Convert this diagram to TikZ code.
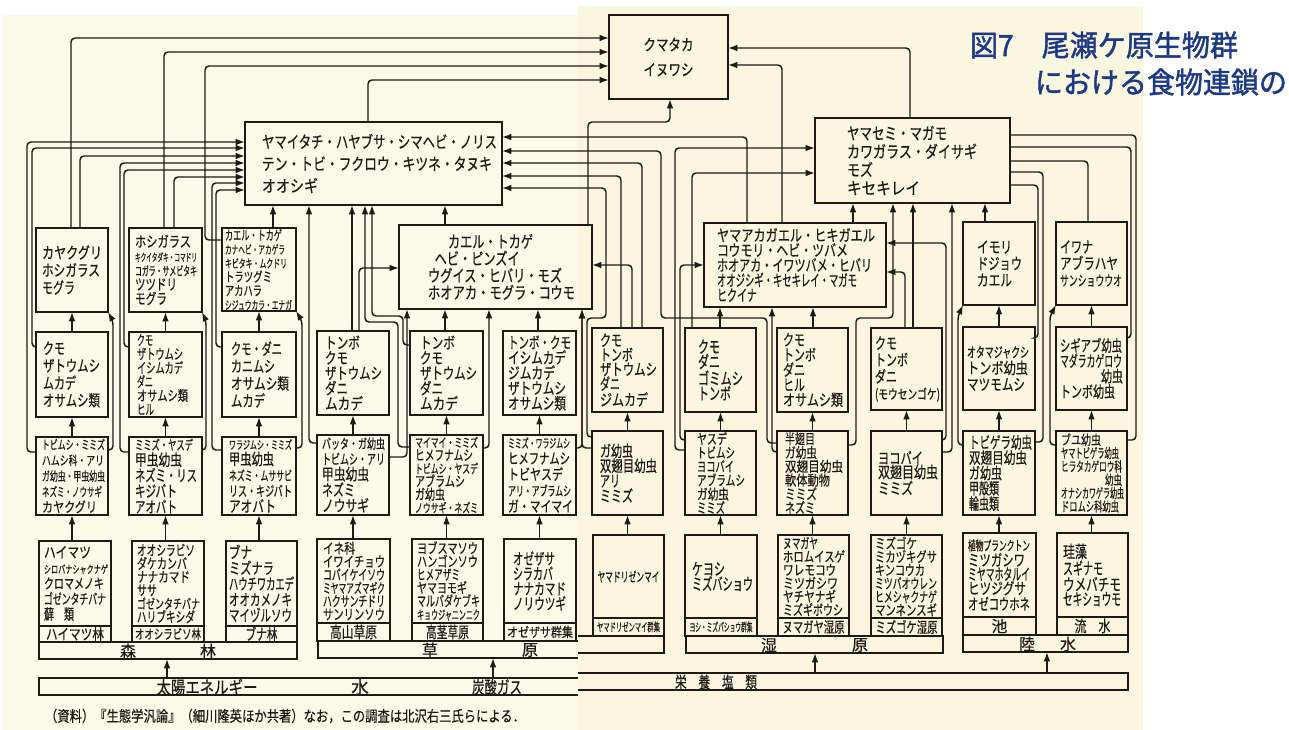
\documentclass[tikz,border=0pt]{standalone}
\usepackage{fontspec}
\usepackage{graphicx}
\setmainfont{Noto Sans CJK JP}[FakeBold=0.5]
\newfontfamily\ttlfont{Noto Sans CJK JP}[FakeBold=1.6]
\usetikzlibrary{arrows.meta}
\definecolor{paperL}{RGB}{251,249,232}
\definecolor{paperR}{RGB}{250,247,225}
\definecolor{ttlblue}{RGB}{28,58,135}
\definecolor{ink}{RGB}{30,26,24}
\newcommand\fz[1]{\fontsize{#1}{#1}\selectfont}
\newcommand\sq[3][]{\resizebox{\dimexpr #2pt*3/4\relax}{\height}{#1#3}}
\tikzset{
  bx/.style={draw, line width=1.35pt, inner ysep=0pt, outer sep=0pt, anchor=north west, align=left},
  lb/.style={align=center},
  fs/.style 2 args={font=\fontsize{#1}{#2}\selectfont},
  tx/.style={inner sep=0pt, outer sep=0pt, font=\fontsize{12}{12}\selectfont},
  barn/.style={inner sep=0pt, outer sep=0pt, anchor=north west, minimum height=12.75pt},
  ln/.style={line width=1.1pt, rounded corners=3pt},
  ar/.style={ln, -{Latex[length=7pt,width=5pt]}},
}
\newcommand\bx[8][]{%
  \pgfmathsetmacro\bxw{(#5-#3)*0.75}%
  \pgfmathsetmacro\bxh{(#6-#4)*0.75}%
  \pgfmathsetmacro\bxp{#7*0.75}%
  \pgfmathsetmacro\bxt{\bxw-2*\bxp}%
  \node[bx,minimum width=\bxw pt,minimum height=\bxh pt,text width=\bxt pt,inner xsep=\bxp pt,#1] (#2) at (#3,#4) {#8};}
\newcommand\uparr[2]{\draw[ar] (#2.south |- #1.north) -- (#2.south);}
\begin{document}
\begin{tikzpicture}[x=0.75pt,y=-0.75pt,color=ink]
\useasboundingbox (0,0) rectangle (1289,730);
\fill[white] (0,0) rectangle (1289,730);
\fill[paperL] (3,15) rectangle (578,730);
\fill[paperR] (578,6) rectangle (1143,730);

% ---------- title ----------
\node[tx,anchor=west,text=ttlblue] (title1) at (970,45) {\ttlfont\sq[\fz{22}]{268}{図7　尾瀬ケ原生物群}};
\node[tx,anchor=west,text=ttlblue] (title2) at (1035,82) {\ttlfont\sq[\fz{22}]{252}{における食物連鎖の}};

% ---------- top boxes ----------
\bx[lb,fs={11.9}{18.75}]{kuma}{609}{15}{728}{99}{0}{\sq{50}{クマタカ}\\\sq{50}{イヌワシ}}
\bx[fs={12.5}{16.5}]{big}{245}{122}{502}{205}{17}{\sq{235}{ヤマイタチ・ハヤブサ・シマヘビ・ノリス}\\\sq{230}{テン・トビ・フクロウ・キツネ・タヌキ}\\\sq{56}{オオシギ}}
\bx[fs={12.5}{12.75}]{k2}{399}{225}{592}{309}{29}{\hspace*{15pt}\sq{85}{カエル・トカゲ}\\\hspace*{5pt}\sq{85}{ヘビ・ピンズイ}\\\sq{134}{ウグイス・ヒバリ・モズ}\\\sq{147}{ホオアカ・モグラ・コウモ}}
\bx[fs={12.5}{13.7}]{ys}{815}{118}{1010}{203}{32}{\sq{100}{ヤマセミ・マガモ}\\\sq{130}{カワガラス・ダイサギ}\\\sq{26}{モズ}\\\sq{73}{キセキレイ}}
\bx[fs={11.9}{11.25}]{ya}{704}{223}{886}{307}{13}{\sq{158}{ヤマアカガエル・ヒキガエル}\\\sq{131}{コウモリ・ヘビ・ツバメ}\\\sq{155}{ホオアカ・イワツバメ・ヒバリ}\\\sq{140}{オオジシギ・キセキレイ・マガモ}\\\sq{40}{ヒクイナ}}

% ---------- forest ----------
\bx[fs={11.9}{13.1}]{f1a}{36}{228}{108}{312}{6}{\sq{60}{カヤクグリ}\\\sq{58}{ホシガラス}\\\sq{33}{モグラ}}
\bx[fs={11.25}{10.7}]{f1b}{129}{228}{202}{312}{6}{\sq{56}{ホシガラス}\\\sq[\fz{8.1}]{62}{キクイタダキ・コマドリ}\\\sq[\fz{9.4}]{62}{コガラ・サメビタキ}\\\sq{42}{ツツドリ}\\\sq{32}{モグラ}}
\bx[fs={10}{10.4}]{f1c}{222}{228}{296}{311}{3}{\sq{57}{カエル・トカゲ}\\\sq[\fz{8.75}]{60}{カナヘビ・アカゲラ}\\\sq[\fz{8.75}]{62}{キビタキ・ムクドリ}\\\sq{47}{トラツグミ}\\\sq{37}{アカハラ}\\\sq[\fz{8.75}]{67}{シジュウカラ・エナガ}}
\bx[fs={11.9}{13}]{f2a}{36}{332}{108}{417}{7}{\sq{22}{クモ}\\\sq{57}{ザトウムシ}\\\sq{33}{ムカデ}\\\sq{57}{オサムシ類}}
\bx[fs={10.6}{10.4}]{f2b}{129}{332}{202}{417}{8}{\sq{16}{クモ}\\\sq{46}{ザトウムシ}\\\sq{46}{イシムカデ}\\\sq{16}{ダニ}\\\sq{51}{オサムシ類}\\\sq{17}{ヒル}}
\bx[fs={11.9}{13}]{f2c}{222}{332}{296}{417}{9}{\sq{51}{クモ・ダニ}\\\sq{44}{カニムシ}\\\sq{58}{オサムシ類}\\\sq{34}{ムカデ}}
\bx[fs={10.6}{11.8}]{f3a}{36}{437}{108}{515}{6}{\sq[\fz{9.4}]{63}{トビムシ・ミミズ}\\\sq[\fz{9.4}]{62}{ハムシ科・アリ}\\\sq[\fz{9.4}]{63}{ガ幼虫・甲虫幼虫}\\\sq[\fz{9.4}]{60}{ネズミ・ノウサギ}\\\sq{55}{カヤクグリ}}
\bx[fs={11.9}{11.8}]{f3b}{129}{437}{202}{515}{6}{\sq[\fz{10}]{58}{ミミズ・ヤスデ}\\\sq{47}{甲虫幼虫}\\\sq{62}{ネズミ・リス}\\\sq{42}{キジバト}\\\sq{42}{アオバト}}
\bx[fs={11.9}{11.8}]{f3c}{222}{437}{296}{515}{7}{\sq[\fz{8.75}]{63}{ワラジムシ・ミミズ}\\\sq{45}{甲虫幼虫}\\\sq[\fz{10}]{63}{ネズミ・ムササビ}\\\sq[\fz{10.6}]{63}{リス・キジバト}\\\sq{47}{アオバト}}
\bx[fs={11.25}{11.6}]{f4a}{39}{541}{111}{626}{5}{\sq{47}{ハイマツ}\\\sq[\fz{8.1}]{64}{シロバナシャクナゲ}\\\sq[\fz{10.6}]{60}{クロマメノキ}\\\sq[\fz{10.6}]{62}{ゴゼンタチバナ}\\\sq{30}{蘚　類}}
\bx[lb,fs={11.25}{9}]{f4aL}{39}{626}{111}{642}{0}{\sq{58}{ハイマツ林}}
\bx[fs={10.6}{10}]{f4b}{132}{541}{204}{626}{5}{\sq{58}{オオシラビソ}\\\sq{50}{ダケカンバ}\\\sq{53}{ナナカマド}\\\sq{20}{ササ}\\\sq[\fz{10}]{63}{ゴゼンタチバナ}\\\sq{58}{ハリブキシダ}}
\bx[lb,fs={10}{8}]{f4bL}{132}{626}{204}{642}{0}{\sq{66}{オオシラビソ林}}
\bx[fs={11.9}{11.8}]{f4c}{226}{541}{297}{626}{3}{\sq{23}{ブナ}\\\sq{45}{ミズナラ}\\\sq{65}{ハウチワカエデ}\\\sq{63}{オオカメノキ}\\\sq{63}{マイヅルソウ}}
\bx[lb,fs={11.9}{9.5}]{f4cL}{226}{626}{297}{642}{0}{\sq{32}{ブナ林}}

% ---------- grassland ----------
\bx[fs={11.9}{11.4}]{g2a}{317}{331}{389}{415}{8}{\sq{35}{トンボ}\\\sq{23}{クモ}\\\sq{57}{ザトウムシ}\\\sq{23}{ダニ}\\\sq{38}{ムカデ}}
\bx[fs={11.9}{11.4}]{g2b}{410}{331}{483}{415}{10}{\sq{35}{トンボ}\\\sq{23}{クモ}\\\sq{57}{ザトウムシ}\\\sq{23}{ダニ}\\\sq{38}{ムカデ}}
\bx[fs={11.9}{11.4}]{g2c}{503}{331}{576}{415}{5}{\sq{63}{トンボ・クモ}\\\sq{58}{イシムカデ}\\\sq{47}{ジムカデ}\\\sq{58}{ザトウムシ}\\\sq{58}{オサムシ類}}
\bx[fs={11.9}{11.8}]{g3a}{317}{435}{389}{515}{5}{\sq[\fz{10}]{63}{バッタ・ガ幼虫}\\\sq[\fz{10.6}]{63}{トビムシ・アリ}\\\sq{47}{甲虫幼虫}\\\sq{33}{ネズミ}\\\sq{47}{ノウサギ}}
\bx[fs={10.6}{9.8}]{g3b}{410}{435}{483}{515}{5}{\sq[\fz{9.4}]{63}{マイマイ・ミミズ}\\\sq{58}{ヒメフナムシ}\\\sq[\fz{9.4}]{63}{トビムシ・ヤスデ}\\\sq{50}{アブラムシ}\\\sq{30}{ガ幼虫}\\\sq[\fz{9.4}]{63}{ノウサギ・ネズミ}}
\bx[fs={11.25}{12}]{g3c}{503}{435}{576}{515}{5}{\sq[\fz{9.4}]{62}{ミミズ・ワラジムシ}\\\sq{62}{ヒメフナムシ}\\\sq{55}{トビヤスデ}\\\sq[\fz{10}]{63}{アリ・アブラムシ}\\\sq{65}{ガ・マイマイ}}
\bx[fs={10.6}{9.9}]{g4a}{317}{539}{390}{623}{6}{\sq{32}{イネ科}\\\sq{62}{イワイチョウ}\\\sq{62}{コバイケイソウ}\\\sq[\fz{10}]{62}{ミヤマアズマギク}\\\sq{62}{ハクサンチドリ}\\\sq{62}{サンリンソウ}}
\bx[lb,fs={11.9}{9.5}]{g4aL}{317}{623}{390}{641}{0}{\sq{47}{高山草原}}
\bx[fs={10.6}{9.9}]{g4b}{412}{539}{483}{623}{5}{\sq{61}{ヨブスマソウ}\\\sq{61}{ハンゴンソウ}\\\sq{43}{ヒメアザミ}\\\sq{50}{ヤマヨモギ}\\\sq{63}{マルバダケブキ}\\\sq[\fz{9.4}]{63}{キョウジャニンニク}}
\bx[lb,fs={11.9}{9.5}]{g4bL}{412}{623}{483}{641}{0}{\sq{43}{高茎草原}}
\bx[fs={11.9}{11.25}]{g4c}{504}{539}{576}{623}{9}{\sq{42}{オゼザサ}\\\sq{40}{シラカバ}\\\sq{53}{ナナカマド}\\\sq{53}{ノリウツギ}}
\bx[lb,fs={10}{8}]{g4cL}{504}{623}{576}{641}{0}{\sq{66}{オゼザサ群集}}

% ---------- right half ----------
\bx[fs={11.9}{12.4}]{im}{963}{222}{1035}{305}{14}{\sq{35}{イモリ}\\\sq{45}{ドジョウ}\\\sq{35}{カエル}}
\bx[fs={11.9}{12.4}]{iw}{1056}{222}{1127}{305}{4}{\sq{33}{イワナ}\\\sq{58}{アブラハヤ}\\\sq[\fz{10.6}]{62}{サンショウウオ}}
\bx[fs={11.9}{10.9}]{r2a}{592}{328}{663}{412}{8}{\sq{22}{クモ}\\\sq{33}{トンボ}\\\sq{57}{ザトウムシ}\\\sq{20}{ダニ}\\\sq{48}{ジムカデ}}
\bx[fs={12.5}{11.25}]{r2b}{685}{328}{756}{412}{13}{\sq{22}{クモ}\\\sq{22}{ダニ}\\\sq{45}{ゴミムシ}\\\sq{33}{トンボ}}
\bx[fs={11.9}{11.25}]{r2c}{777}{328}{848}{412}{6}{\sq{22}{クモ}\\\sq{33}{トンボ}\\\sq{22}{ダニ}\\\sq{22}{ヒル}\\\sq{60}{オサムシ類}}
\bx[fs={11.9}{12.5}]{r2d}{871}{328}{942}{410}{4}{\sq{22}{クモ}\\\sq{33}{トンボ}\\\sq{22}{ダニ}\\\sq[\fz{10}]{65}{(モウセンゴケ)}}
\bx[fs={11.9}{12.3}]{r2e}{963}{327}{1035}{410}{4}{\sq[\fz{10.6}]{62}{オタマジャクシ}\\\sq{61}{トンボ幼虫}\\\sq{58}{マツモムシ}}
\bx[fs={11.9}{11.5}]{r2f}{1056}{327}{1127}{410}{4}{\sq{62}{シギアブ幼虫}\\\sq{62}{マダラカゲロウ}\\\hspace*{\fill}\sq{22}{幼虫}\\\sq{55}{トンボ幼虫}}
\bx[fs={11.9}{11.25}]{r3a}{592}{431}{663}{515}{8}{\sq{33}{ガ幼虫}\\\sq{57}{双翅目幼虫}\\\sq{20}{アリ}\\\sq{33}{ミミズ}}
\bx[fs={10.6}{10.35}]{r3b}{685}{431}{756}{515}{12}{\sq{30}{ヤスデ}\\\sq{38}{トビムシ}\\\sq{37}{ヨコバイ}\\\sq{48}{アブラムシ}\\\sq{32}{ガ幼虫}\\\sq{28}{ミミズ}}
\bx[fs={10.6}{10.35}]{r3c}{777}{431}{848}{515}{8}{\sq{30}{半翅目}\\\sq{32}{ガ幼虫}\\\sq{58}{双翅目幼虫}\\\sq{45}{軟体動物}\\\sq{32}{ミミズ}\\\sq{30}{ネズミ}}
\bx[fs={11.9}{10.5}]{r3d}{871}{431}{942}{515}{7}{\sq{45}{ヨコバイ}\\\sq{60}{双翅目幼虫}\\\sq{35}{ミミズ}}
\bx[fs={11.9}{11.5}]{r3e}{963}{431}{1035}{515}{6}{\sq{63}{トビゲラ幼虫}\\\sq{58}{双翅目幼虫}\\\sq{33}{ガ幼虫}\\\sq{30}{甲殻類}\\\sq{30}{輪虫類}}
\bx[fs={10}{10}]{r3f}{1056}{431}{1127}{515}{5}{\sq{40}{ブユ幼虫}\\\sq{58}{ヤマトビゲラ幼虫}\\\sq{61}{ヒラタカゲロウ科}\\\hspace*{\fill}\sq{17}{幼虫}\\\sq{63}{オナシカワゲラ幼虫}\\\sq{58}{ドロムシ科幼虫}}
\bx[lb,fs={10}{8}]{r4a}{593}{535}{664}{618}{0}{\sq{62}{ヤマドリゼンマイ}}
\bx[lb,fs={8.75}{7}]{r4aL}{593}{618}{664}{636}{0}{\sq{63}{ヤマドリゼンマイ群集}}
\bx[fs={12.5}{11.25}]{r4b}{685}{535}{757}{618}{7}{\sq{33}{ケヨシ}\\\sq{61}{ミズバショウ}}
\bx[lb,fs={8.75}{7}]{r4bL}{685}{618}{757}{636}{0}{\sq{63}{ヨシ・ミズバショウ群集}}
\bx[fs={10.6}{10}]{r4c}{778}{535}{849}{618}{5}{\sq{35}{ヌマガヤ}\\\sq{62}{ホロムイスゲ}\\\sq{53}{ワレモコウ}\\\sq{55}{ミツガシワ}\\\sq{53}{ヤチヤナギ}\\\sq{60}{ミズギボウシ}}
\bx[lb,fs={11.25}{9}]{r4cL}{778}{618}{849}{636}{0}{\sq{62}{ヌマガヤ湿原}}
\bx[fs={10.6}{10}]{r4d}{871}{535}{942}{618}{4}{\sq{42}{ミズゴケ}\\\sq{62}{ミカヅキグサ}\\\sq{50}{キンコウカ}\\\sq{62}{ミツバオウレン}\\\sq{62}{ヒメシャクナゲ}\\\sq{62}{マンネンスギ}}
\bx[lb,fs={11.25}{9}]{r4dL}{871}{618}{942}{636}{0}{\sq{62}{ミズゴケ湿原}}
\bx[fs={11.9}{10.6}]{r4e}{963}{533}{1036}{617}{5}{\sq[\fz{10}]{62}{植物プランクトン}\\\sq{57}{ミツガシワ}\\\sq{62}{ミヤマホタルイ}\\\sq{58}{ヒツジグサ}\\\sq{62}{オゼコウホネ}}
\bx[lb,fs={11.9}{9.5}]{r4eL}{963}{617}{1036}{635}{0}{池}
\bx[fs={12.5}{11}]{r4f}{1057}{533}{1128}{617}{6}{\sq{24}{珪藻}\\\sq{40}{スギナモ}\\\sq{58}{ウメバチモ}\\\sq{58}{セキショウモ}}
\bx[lb,fs={11.9}{9.5}]{r4fL}{1057}{617}{1128}{635}{0}{\sq{36}{流　水}}

% ---------- bars ----------
\node[barn,draw,line width=1.35pt,minimum width=193.5pt] (forest) at (39,642) {};
\node[tx] (forestT1) at (128,651) {森};
\node[tx] (forestT2) at (208,651) {林};
\node[barn,minimum width=195pt] (grass) at (318,641) {};
\node[barn,minimum width=64.5pt] (grassR) at (578,636) {};
\draw[line width=1.35pt] (grass.north east) -- (grass.north west) -- (grass.south west) -- (grass.south east);
\draw[line width=1.35pt] (grassR.north west) -- (grassR.north east) -- (grassR.south east) -- (grassR.south west);
\node[tx] (grassT1) at (430,650) {草};
\node[tx] (grassT2) at (530,650) {原};
\node[barn,draw,line width=1.35pt,minimum width=192.75pt] (wet) at (686,636) {};
\node[tx] (wetT1) at (769,645) {湿};
\node[tx] (wetT2) at (860,645) {原};
\node[barn,draw,line width=1.35pt,minimum width=123.75pt] (lw) at (963,635) {};
\node[tx] (lwT1) at (1027,644) {陸};
\node[tx] (lwT2) at (1068,644) {水};
\node[barn,minimum width=404.25pt] (sun) at (39,678) {};
\draw[line width=1.35pt] (sun.north east) -- (sun.north west) -- (sun.south west) -- (sun.south east);
\node[tx] (sunT1) at (207,687) {\sq[\fz{13.1}]{101}{太陽エネルギー}};
\node[tx] (sunT2) at (360,687) {\fz{13.1}水};
\node[tx] (sunT3) at (497,687) {\sq[\fz{13.1}]{50}{炭酸ガス}};
\node[barn,minimum width=412.5pt] (nut) at (578,673) {};
\draw[line width=1.35pt] (nut.north west) -- (nut.north east) -- (nut.south east) -- (nut.south west);
\node[tx] (nutT) at (716,682) {\sq[\fz{11.9}]{82}{栄　養　塩　類}};
\node[tx,anchor=west] (src) at (45,716) {\sq[\fz{11.25}]{480}{（資料）『生態学汎論』（細川隆英ほか共著）なお，この調査は北沢右三氏らによる．}};

% ---------- bar arrows ----------
\draw[ar] (sun.north -| 167,0) -- (forest.south -| 167,0);
\draw[ar] (sun.north -| 493,0) -- (grass.south -| 493,0);
\draw[ar] (nut.north -| 815,0) -- (wet.south -| 815,0);
\draw[ar] (nut.north -| 1047,0) -- (lw.south -| 1047,0);

% ---------- column arrows ----------
\uparr{f4a}{f3a} \uparr{f3a}{f2a} \uparr{f2a}{f1a}
\uparr{f4b}{f3b} \uparr{f3b}{f2b} \uparr{f2b}{f1b}
\uparr{f4c}{f3c} \uparr{f3c}{f2c} \uparr{f2c}{f1c}
\uparr{g4a}{g3a} \uparr{g3a}{g2a}
\uparr{g4b}{g3b} \uparr{g3b}{g2b}
\uparr{g4c}{g3c} \uparr{g3c}{g2c}
\uparr{r4a}{r3a} \uparr{r3a}{r2a}
\uparr{r4b}{r3b} \uparr{r3b}{r2b}
\uparr{r4c}{r3c} \uparr{r3c}{r2c}
\uparr{r4d}{r3d} \uparr{r3d}{r2d}
\uparr{r4e}{r3e} \uparr{r3e}{r2e} \uparr{r2e}{im}
\uparr{r4f}{r3f} \uparr{r3f}{r2f} \uparr{r2f}{iw}

% ---------- to kuma ----------
\draw[ar] (f1a.north -| 71,0) |- (kuma.west |- 0,38);
\draw[ar] (f1b.north -| 164,0) |- (kuma.west |- 0,52);
\draw[ar] (f1c.west |- 0,240) -| (205,66) -- (kuma.west |- 0,66);
\draw[ar] (big.north -| 368,0) |- (kuma.west |- 0,80);
\draw[ar] (ys.north -| 910,0) |- (kuma.east |- 0,48);
\draw[ar] (ya.north -| 782,0) |- (kuma.east |- 0,65);
\draw[ar] (k2.north -| 588,0) -- (588,122) -- (670,122) -- (kuma.south -| 670,0);

% ---------- to big (left side) ----------
\draw[ar] (f3a.west |- 0,452) -| (27,142) -- (big.west |- 0,142);
\draw[ar] (f2a.west |- 0,347) -| (32,148) -- (big.west |- 0,148);
\draw[ar] (f1a.north -| 80,0) |- (big.west |- 0,156);
\draw[ar] (f3b.west |- 0,452) -| (120,163) -- (big.west |- 0,163);
\draw[ar] (f2b.west |- 0,347) -| (124,170) -- (big.west |- 0,170);
\draw[ar] (f1b.north -| 174,0) |- (big.west |- 0,177);
\draw[ar] (f3c.west |- 0,450) -| (212,183) -- (big.west |- 0,183);
\draw[ar] (f2c.west |- 0,347) -| (216,190) -- (big.west |- 0,190);
% hooks
\draw[ar] (f3a.east |- 0,450) -| (113,321) -- (f1a.south east);
\draw[ar] (f3b.east |- 0,450) -| (206,321) -- (f1b.south east);
\draw[ar] (f3c.east |- 0,448) -| (302,321) -- (f1c.south east);
% ---------- to big (bottom) ----------
\draw[ar] (f1c.north -| 273,0) -- (big.south -| 273,0);
\draw[ar] (g3a.west |- 0,443) -| (big.south -| 309,0);
\draw[ar] (g2a.north -| 352,0) -- (big.south -| 352,0);
\draw[ar] (g3b.west |- 0,447) -- (398,447) |- (365,322) -- (big.south -| 365,0);
\draw[ar] (g2b.west |- 0,345) -- (403,345) |- (372,316) -- (big.south -| 372,0);
\draw[ar] (k2.north -| 445,0) -- (big.south -| 445,0);
% ---------- to k2 ----------
\draw[ar] (g2a.north -| 359,0) |- (k2.west |- 0,268);
\draw[ar] (g3a.east |- 0,457) -- (407,457) -- (k2.south -| 407,0);
\draw[ar] (g2b.north -| 445,0) -- (k2.south -| 445,0);
\draw[ar] (g3b.east |- 0,448) -| (k2.south -| 489,0);
\draw[ar] (g2c.north -| 538,0) -- (k2.south -| 538,0);
\draw[ar] (g3c.east |- 0,448) -- (582,448) -- (k2.south -| 582,0);
\draw[ar] (r3a.west |- 0,448) -- (582,448) -- (k2.south -| 582,0);
\draw[ar] (r2a.north -| 632,0) |- (k2.east |- 0,265);
% ---------- to big (right side) ----------
\draw[ar] (ya.north -| 747,0) |- (big.east |- 0,137);
\draw[ar] (r3c.west |- 0,443) -- (767,443) |- (661,318) |- (big.east |- 0,151);
\draw[ar] (r2a.north -| 642,0) |- (big.east |- 0,163);
\draw[ar] (r2a.north -| 621,0) |- (big.east |- 0,176);
\draw[ar] (r3a.west |- 0,437) -- (587,437) |- (606,318) |- (big.east |- 0,188);
% ---------- to ya ----------
\draw[ar] (r2b.north -| 720,0) -- (ya.south -| 720,0);
\draw[ar] (r3c.west |- 0,452) -- (772,452) -- (ya.south -| 772,0);
\draw[ar] (r2c.north -| 813,0) -- (ya.south -| 813,0);
\draw[ar] (r3b.west |- 0,440) -- (680,440) |- (ya.west |- 0,265);
\draw[ar] (r2d.north -| 905,0) |- (ya.east |- 0,272);
\draw[ar] (r3d.east |- 0,440) -- (946,440) |- (ya.east |- 0,243);
% ---------- to ys ----------
\draw[ar] (r3b.west |- 0,450) -- (675,450) |- (ys.west |- 0,148);
\draw[ar] (r2b.north -| 692,0) |- (ys.west |- 0,173);
\draw[ar] (ya.north -| 853,0) -- (ys.south -| 853,0);
\draw[ar] (r3c.east |- 0,445) -- (856,445) |- (893,318) -- (ys.south -| 893,0);
\draw[ar] (r2d.north -| 913,0) -- (ys.south -| 913,0);
\draw[ar] (r3d.east |- 0,452) -- (952,452) -- (ys.south -| 952,0);
\draw[ar] (im.north -| 985,0) -- (ys.south -| 985,0);
\draw[ln] (r2e.east |- 0,338) -- (1038,338) |- (ys.east |- 0,185);
\draw[ln] (r3e.east |- 0,442) -- (1043,442) |- (ys.east |- 0,172);
\draw[ln] (iw.north -| 1088,0) |- (ys.east |- 0,161);
\draw[ln] (r2f.east |- 0,338) -- (1131,338) |- (ys.east |- 0,147);
\draw[ln] (r3f.east |- 0,440) -- (1136,440) |- (ys.east |- 0,135);
% hooks right
\draw[ar] (r3e.west |- 0,445) -- (958,445) -- (958,316) -- (im.south west);
\draw[ar] (r3f.west |- 0,445) -- (1050,445) -- (1050,316) -- (iw.south west);
\end{tikzpicture}
\end{document}
